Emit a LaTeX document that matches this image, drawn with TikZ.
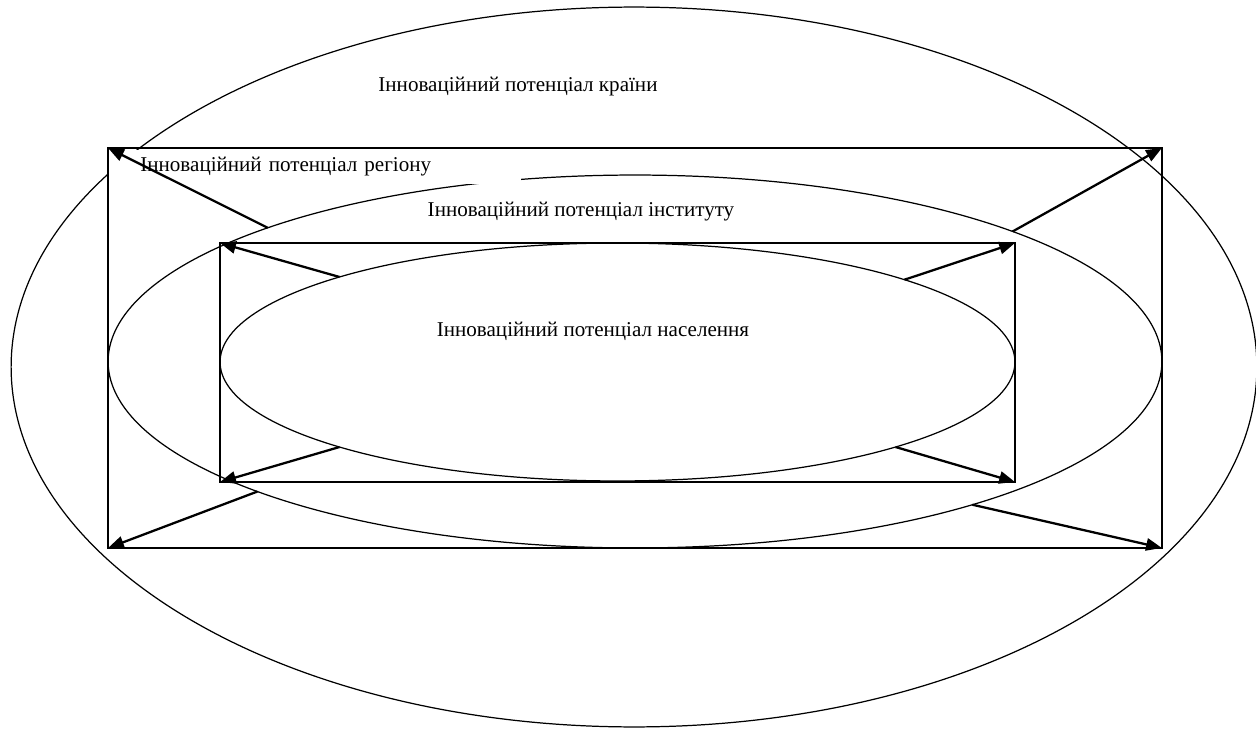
\documentclass[tikz,border=0pt]{standalone}
\usepackage{fontspec}
\setmainfont{Liberation Serif}
\usetikzlibrary{arrows.meta, positioning, shapes.geometric}

\begin{document}
\begin{tikzpicture}[x=0.02cm, y=-0.02cm,
    >={Triangle[length=9pt, width=7pt]},
    level/.style={draw, line width=0.7pt, inner sep=0pt, outer sep=0pt},
    flow/.style={->, line width=1.3pt},
    lbl/.style={font=\fontsize{12}{14}\selectfont, inner sep=0pt}]
  \useasboundingbox (0,0) rectangle (1256,729);
  \clip (0,0) rectangle (1256,729);

  % potential levels
  \node[level, ellipse, minimum width=24.92cm, minimum height=14.4cm]
    (country) at (634,367) {};
  \node[level, ellipse, minimum width=21.08cm, minimum height=7.46cm]
    (institute) at (635,361.5) {};
  \node[lbl, fill=white, anchor=north west, inner xsep=0.62cm,
        text width=7cm, align=left, minimum height=0.68cm]
    (regionlbl) at (109,149.5) {Інноваційний потенціал регіону};
  \node[level, minimum width=21.08cm, minimum height=8cm]
    (region) at (635,348) {};
  \node[level, minimum width=15.9cm, minimum height=4.78cm]
    (inframe) at (617.5,362.5) {};
  \node[level, ellipse, minimum width=15.9cm, minimum height=4.76cm]
    (population) at (617.5,362) {};

  % labels
  \node[lbl] (countrylbl) at (518,87) {Інноваційний потенціал країни};
  \node[lbl] (institutelbl) at (581,212) {Інноваційний потенціал інституту};
  \node[lbl] (populationlbl) at (593,331) {Інноваційний потенціал населення};

  % arrows to the corners
  \draw[flow] (institute.160.5) -- (region.north west);
  \draw[flow] (institute.19.4) -- (region.north east);
  \draw[flow] (institute.199.6) -- (region.south west);
  \draw[flow] (institute.-23) -- (region.south east);
  \draw[flow] (population.163.6) -- (inframe.north west);
  \draw[flow] (population.16.5) -- (inframe.north east);
  \draw[flow] (population.197.1) -- (inframe.south west);
  \draw[flow] (population.-17) -- (inframe.south east);
\end{tikzpicture}
\end{document}
